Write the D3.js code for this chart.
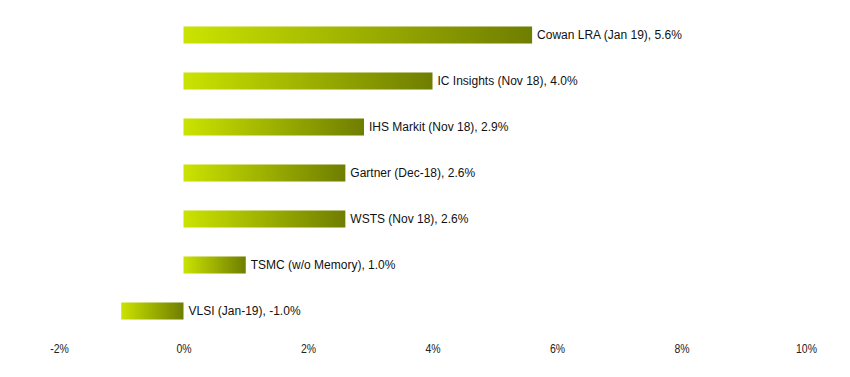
<!DOCTYPE html>
<html><head><meta charset="utf-8">
<script src="https://cdn.jsdelivr.net/npm/d3@7"></script>
<style>body{margin:0;background:#fff}</style>
</head><body>
<svg id="c" width="850" height="377"></svg>
<script>
const categories = ["Cowan LRA (Jan 19)", "IC Insights (Nov 18)", "IHS Markit (Nov 18)", "Gartner (Dec-18)", "WSTS (Nov 18)", "TSMC (w/o Memory)", "VLSI (Jan-19)"];
const values = [5.6, 4.0, 2.9, 2.6, 2.6, 1.0, -1.0];
const tickValues = [-2, 0, 2, 4, 6, 8, 10];
const tickLabels = ["-2%", "0%", "2%", "4%", "6%", "8%", "10%"];

const svg = d3.select("#c");
const x = d3.scaleLinear().domain([-2, 10]).range([59, 806]);
const y = d3.scaleBand().domain(categories).range([12, 334]).paddingInner(0.63).paddingOuter(0.315);

const defs = svg.append("defs");
values.forEach((v, i) => {
  const g = defs.append("linearGradient").attr("id", "g" + i)
    .attr("x1", "0%").attr("x2", "100%").attr("y1", "0%").attr("y2", "0%");
  g.append("stop").attr("offset", "0%").attr("stop-color", "#cbe300");
  g.append("stop").attr("offset", "100%").attr("stop-color", "#6f7e00");
});

svg.selectAll("rect.bar").data(values).join("rect")
  .attr("class", "bar")
  .attr("x", d => x(Math.min(0, d)))
  .attr("width", d => Math.abs(x(d) - x(0)))
  .attr("y", (d, i) => y(categories[i]))
  .attr("height", y.bandwidth())
  .attr("fill", (d, i) => `url(#g${i})`);

svg.selectAll("text.lab").data(values).join("text")
  .attr("class", "lab")
  .attr("x", d => x(Math.max(0, d)) + 5)
  .attr("y", (d, i) => y(categories[i]) + y.bandwidth() / 2)
  .attr("dy", "0.35em")
  .attr("font-family", "Liberation Sans, Arial, sans-serif")
  .attr("font-size", 12)
  .attr("fill", "#111")
  .text((d, i) => `${categories[i]}, ${d.toFixed(1)}%`);

const axis = d3.axisBottom(x).tickValues(tickValues).tickFormat((d, i) => tickLabels[i]).tickSize(0).tickPadding(0);
const ag = svg.append("g").attr("transform", "translate(0,344)").call(axis);
ag.select(".domain").remove();
ag.selectAll("text")
  .attr("font-family", "Liberation Sans, Arial, sans-serif")
  .attr("font-size", 12.5)
  .attr("transform", "scale(0.84,1)")
  .attr("fill", "#222");
</script>
</body></html>
